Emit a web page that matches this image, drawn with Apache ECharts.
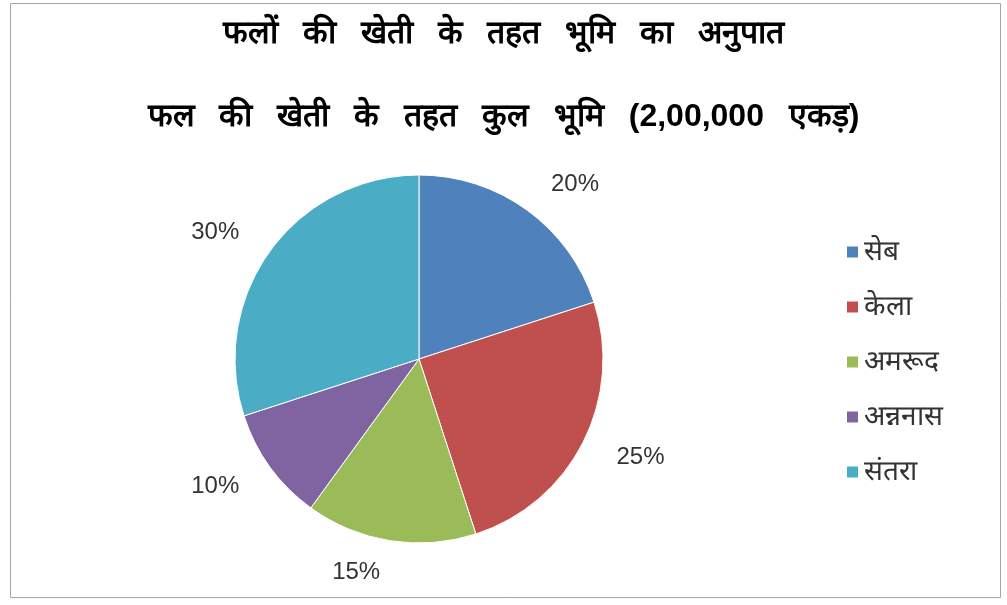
<!DOCTYPE html>
<html><head><meta charset="utf-8">
<script src="https://cdn.jsdelivr.net/npm/echarts@6/dist/echarts.min.js"></script>
<style>html,body{margin:0;padding:0;background:#fff}#c{width:1007px;height:605px}</style>
</head><body><div id="c"></div>
<script>
var titleText = 'फलों की खेती के तहत भूमि का अनुपात';
var subtitleText = 'फल की खेती के तहत कुल भूमि (2,00,000 एकड़)';
var categories = ['सेब', 'केला', 'अमरूद', 'अन्ननास', 'संतरा'];
var values = [20, 25, 15, 10, 30];
var colors = ['#4F81BD', '#C0504D', '#9BBB59', '#8064A2', '#4BACC6'];

function widen(s) { return s.split(' ').join(' \u2002'); }

var chart = echarts.init(document.getElementById('c'));
var data = categories.map(function (c, i) { return { name: c, value: values[i], itemStyle: { color: colors[i] } }; });
chart.setOption({
  animation: false,
  graphic: [{ type: 'rect', shape: { x: 10.5, y: 3.5, width: 990, height: 594 }, style: { fill: 'none', stroke: '#a6a6a6', lineWidth: 1 } }],
  title: [
    { text: widen(titleText), left: 'center', top: 13, textStyle: { fontSize: 32, fontWeight: 'bold', color: '#000', fontFamily: 'sans-serif' } },
    { text: widen(subtitleText), left: 'center', top: 96, textStyle: { fontSize: 32, fontWeight: 'bold', color: '#000', fontFamily: 'sans-serif' } }
  ],
  legend: {
    orient: 'vertical', left: 840, top: 233, itemGap: 27, itemWidth: 13, itemHeight: 13, icon: 'rect',
    textStyle: { fontSize: 28, color: '#333', fontFamily: 'sans-serif' }
  },
  series: [{
    type: 'pie', center: [419, 359], radius: 184, startAngle: 90, clockwise: true,
    itemStyle: { borderColor: '#fff', borderWidth: 1 },
    label: { show: true, position: 'outside', formatter: '{c}%', fontSize: 24, color: '#333', fontFamily: 'sans-serif' },
    labelLine: { show: false, length: 32, length2: 0 },
    emphasis: { disabled: true },
    data: data
  }]
});
</script></body></html>
